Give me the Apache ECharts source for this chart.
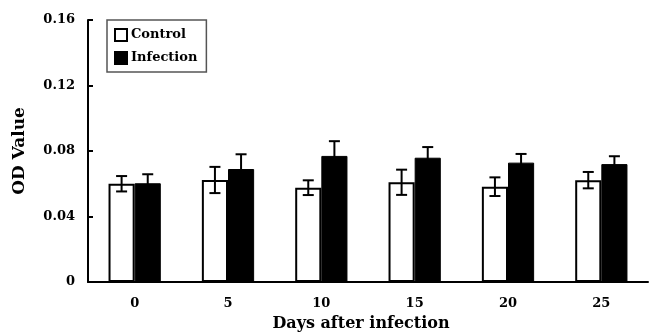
<!DOCTYPE html>
<html><head><meta charset="utf-8">
<script src="https://cdn.jsdelivr.net/npm/echarts@6/dist/echarts.min.js"></script>
<style>html,body{margin:0;padding:0;background:#fff}#c{width:652px;height:334px}</style>
</head><body><div id="c"></div>
<script>
var categories = ['0', '5', '10', '15', '20', '25'];
var controlValues = [0.0600, 0.0623, 0.0576, 0.0609, 0.0582, 0.0622];
var controlErrors = [0.0047, 0.0080, 0.0045, 0.0077, 0.0057, 0.0050];
var infectionValues = [0.0603, 0.0690, 0.0770, 0.0759, 0.0729, 0.0720];
var infectionErrors = [0.0055, 0.0090, 0.0090, 0.0065, 0.0053, 0.0048];
var yTicks = [0, 0.04, 0.08, 0.12, 0.16];

var FONT = 'DejaVu Serif';
var BAR_FRAC = 0.28;

function errData(vals, errs) {
  return vals.map(function (v, i) { return [i, v - errs[i], v + errs[i]]; });
}
function errSeries(name, vals, errs, side, color) {
  return {
    type: 'custom', name: name + ' err', silent: true, z: 5,
    data: errData(vals, errs),
    renderItem: function (params, api) {
      var band = api.size([1, 0])[0];
      var off = side * band * BAR_FRAC / 2;
      var lo = api.coord([api.value(0), api.value(1)]);
      var hi = api.coord([api.value(0), api.value(2)]);
      var x = lo[0] + off, cap = 5.5;
      var st = { stroke: color, lineWidth: 2 };
      return { type: 'group', children: [
        { type: 'line', shape: { x1: x, y1: lo[1], x2: x, y2: hi[1] }, style: st },
        { type: 'line', shape: { x1: x - cap, y1: hi[1], x2: x + cap, y2: hi[1] }, style: st },
        { type: 'line', shape: { x1: x - cap, y1: lo[1], x2: x + cap, y2: lo[1] }, style: st }
      ]};
    }
  };
}

var chart = echarts.init(document.getElementById('c'));
chart.setOption({
  animation: false,
  backgroundColor: '#fff',
  textStyle: { fontFamily: FONT },
  grid: { left: 88, right: 4, top: 20, bottom: 52, containLabel: false, outerBoundsMode: 'none' },
  legend: {
    left: 107, top: 20, orient: 'vertical', itemGap: 9,
    data: ['Control', 'Infection'],
    icon: 'rect',
    borderColor: '#555', borderWidth: 1.5, padding: [8, 9, 7, 7],
    itemWidth: 12, itemHeight: 12,
    textStyle: { fontFamily: FONT, fontWeight: 'bold', fontSize: 13, lineHeight: 14, color: '#000', padding: [0, 0, 0, -1] }
  },
  xAxis: {
    type: 'category', data: categories,
    name: 'Days after infection', nameLocation: 'middle', nameGap: 34,
    nameTextStyle: { fontFamily: FONT, fontWeight: 'bold', fontSize: 16, color: '#000', padding: [0, 14, 0, 0] },
    axisLine: { lineStyle: { color: '#000', width: 2 } },
    axisTick: { inside: true, length: 6, lineStyle: { color: '#000', width: 2 } },
    axisLabel: { fontFamily: FONT, fontWeight: 'bold', fontSize: 13, color: '#000', margin: 15 },
    splitLine: { show: false }
  },
  yAxis: {
    type: 'value', min: yTicks[0], max: yTicks[yTicks.length - 1], interval: yTicks[1] - yTicks[0],
    name: 'OD Value', nameLocation: 'middle', nameGap: 60, nameRotate: 90,
    nameTextStyle: { fontFamily: FONT, fontWeight: 'bold', fontSize: 17, color: '#000' },
    axisLine: { show: true, lineStyle: { color: '#000', width: 2 } },
    axisTick: { show: true, inside: true, length: 5, lineStyle: { color: '#000', width: 2 } },
    axisLabel: { fontFamily: FONT, fontWeight: 'bold', fontSize: 13, color: '#000', margin: 13,
      formatter: function (v) { return v === 0 ? '0' : v.toFixed(2); } },
    splitLine: { show: false }
  },
  series: [
    { name: 'Control', type: 'bar', data: controlValues, barWidth: (BAR_FRAC * 100) + '%', barGap: '0%',
      itemStyle: { color: '#fff', borderColor: '#000', borderWidth: 2 } },
    { name: 'Infection', type: 'bar', data: infectionValues, barWidth: (BAR_FRAC * 100) + '%', barGap: '0%',
      itemStyle: { color: '#000', borderColor: '#000', borderWidth: 1 } },
    errSeries('Control', controlValues, controlErrors, -1, '#000'),
    errSeries('Infection', infectionValues, infectionErrors, 1, '#000')
  ]
});
</script></body></html>
